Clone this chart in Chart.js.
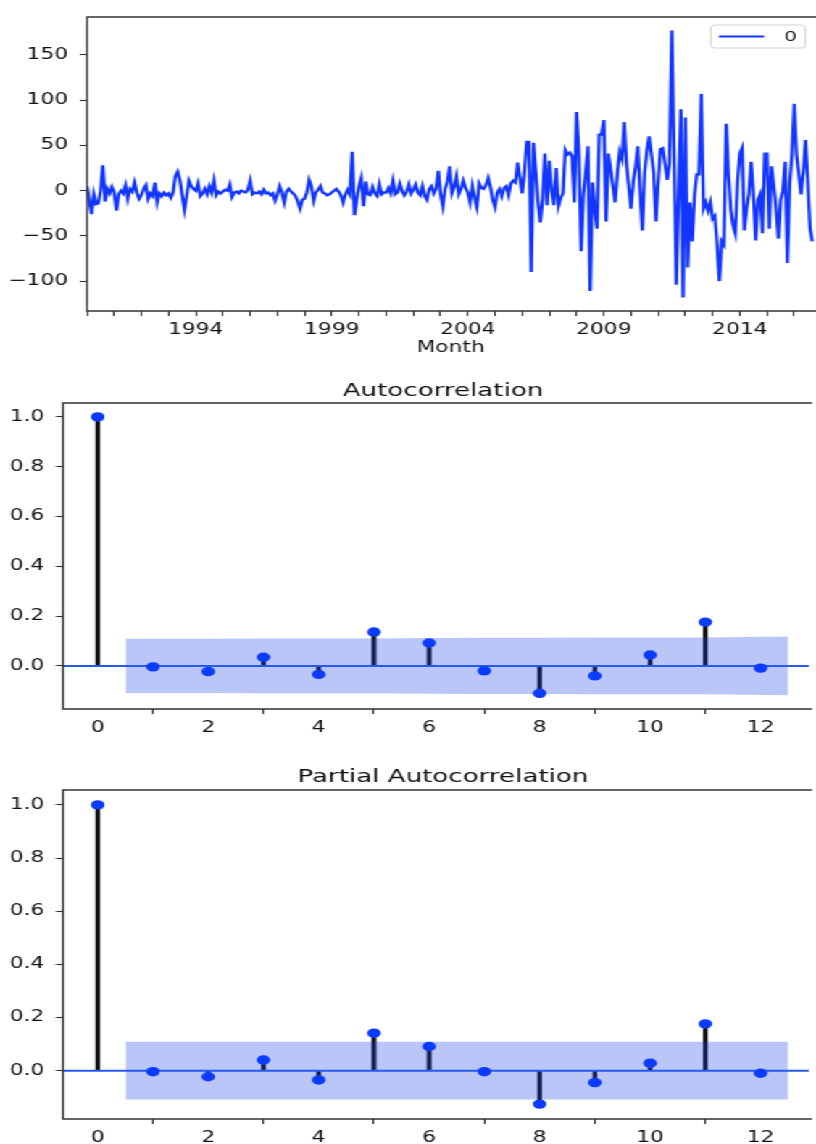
<!DOCTYPE html>
<html>
<head>
<meta charset="utf-8">
<script src="https://cdn.jsdelivr.net/npm/chart.js@4.4.1/dist/chart.umd.min.js"></script>
<style>
  html, body { margin: 0; padding: 0; background: #fff; overflow: hidden; }
  /* the whole figure is drawn narrow and widened horizontally */
  #figure { position: absolute; left: 0; top: 0; width: 563px; height: 1144px;
            transform: scaleX(1.4494); transform-origin: 0 0; }
  .panel { position: absolute; left: 0; width: 563px; }
  #p1 { top: 0; height: 360px; }
  #p2 { top: 360px; height: 380px; }
  #p3 { top: 740px; height: 404px; }
</style>
</head>
<body>
<div id="figure">
  <div class="panel" id="p1"><canvas id="series"></canvas></div>
  <div class="panel" id="p2"><canvas id="acf"></canvas></div>
  <div class="panel" id="p3"><canvas id="pacf"></canvas></div>
</div>
<script>
// ---- monthly differenced series, starting January 1990 ----
const startYear = 1990;
const seriesLabel = '0';
const diff1990s = [
   5, -10, -26,  -4, -15, -14,   0,  28, -12,   2,  -3,   4,
  -2, -22,  -4,   0,  -3,   6,  -9,   2,  -1,   9,  -2,  -9,
  -5,   2,   6,  -9,  -3,  -6,   9, -13,  -3,  -6,  -2,  -5,
  -3,  -8,  -2,  16,  21,  12,  -5, -21,  -6,  11,   5,   2,
   0,   8,  -6,  -3,   2,  -4,   5,  -2,  11,  -5,  -1,  -3,
  -1,   1,   0,   7,  -7,  -2,  -1,  -3,   0,  -1,  -2,   1,
  11,  -4,  -2,  -3,  -1,  -4,   1,  -3,  -2,  -5,  -3, -11,
  -4,   5,  -2, -13,  -1,   2,  -1,  -3,  -6, -12, -20, -10,
  -9,  -2,  12,   5, -11,  -2,   1,   5,  -2,  -3,  -5,  -4,
  -2,   0,   2,  -1,  -5, -13,  -4,   1,  -4,  43, -27, -10
];
const diff2000s = [
   5,  14, -17,  10,  -4,  -5,   4,  -3,  -6,   7,  -4,  -2,
  -2,   3,  -3,  11,  -4,  -2,   8,   0,  -5,  -1,   7,  -3,
   1,   7,  -2,  -5,   5,  -6, -10,   2,   5,  -3,   2,  22,
  -4, -17,   2,  10,  27,  -3,   4,  16,  -4,   2,  11,   3,
  -2, -13,   5,  -8, -18,   8,   3,   2,   6,  14,   4, -10,
 -18,  -2,   2,  -6,   3,   5,  -5,   8,  11,   9,  31,  14,
  -3,  20,  54,  54, -90,  53,  20, -13, -35, -10,  41, -16,
  33,   0, -16,  25, -17,  -8,  -3,  45,  40,  42,  38, -13,
  87,  42, -67,  -5,  20,  49,-111,   9, -20, -42,  62,  62,
  78, -34,  41,  24,   5, -13,  20,  43,  35,  76,  30,   5
];
const diff2010s = [
 -20,  10,  26,  49,   0, -44,  20,  44,  60,  40,  20, -34,
  10,  46,  47,  30,  12,  30, 177,  40,-104,  -5,  90,-118,
  81, -85, -13, -56,  -5,  18,  18, 107, -20, -13, -22, -13,
 -31, -28, -60,-100, -56, -60,  74,  20, -20, -38, -47,  10,
  41,  47, -44, -20,  -4,  32,  -4, -55, -10,  -4, -47,  41,
  41, -42,  27,   5, -20, -53, -10,   0,  32, -80,   8,  40,
  96,  40,  20,  -4,  20,  56,  10, -42, -56
];
const majorYears = [1994, 1999, 2004, 2009, 2014];
const seriesTicks = [-100, -50, 0, 50, 100, 150];

// ---- correlograms ----
const lags = [0, 1, 2, 3, 4, 5, 6, 7, 8, 9, 10, 11, 12];
const acfValues  = [1.0, -0.004, -0.023, 0.035, -0.034, 0.136, 0.092, -0.020, -0.110, -0.040, 0.044, 0.176, -0.009];
const pacfValues = [1.0, -0.004, -0.023, 0.040, -0.035, 0.141, 0.091, -0.004, -0.126, -0.045, 0.028, 0.176, -0.010];
// half-width of the 95% confidence band for lags 1..12
const acfConf  = [0.109, 0.109, 0.110, 0.110, 0.110, 0.112, 0.113, 0.113, 0.114, 0.114, 0.114, 0.118];
const pacfConf = [0.109, 0.109, 0.109, 0.109, 0.109, 0.109, 0.109, 0.109, 0.109, 0.109, 0.109, 0.109];
const corrTicks = [0.0, 0.2, 0.4, 0.6, 0.8, 1.0];
const lagTicks = [0, 2, 4, 6, 8, 10, 12];

// ---- styling ----
const FONT = "'DejaVu Sans', 'Liberation Sans', sans-serif";
const INK = '#111111';
const SPINE = '#333333';
const LINE_BLUE = '#1236ff';
const MARK_BLUE = '#0b3bff';
const ZERO_BLUE = '#2459f2';
const BAND = 'rgba(25,65,228,0.30)';
const tickFont = { family: FONT, size: 15 };

const fmtSigned = v => (v < 0 ? '\u2212' + Math.abs(v) : String(v));

// box spines (left, top, bottom; the right edge falls at the page border)
const framePlugin = {
  id: 'frame',
  afterDatasetsDraw(chart) {
    const { ctx, chartArea: a } = chart;
    ctx.save();
    ctx.strokeStyle = SPINE;
    ctx.lineWidth = 1.4;
    ctx.beginPath();
    ctx.moveTo(a.right + 2, a.top);
    ctx.lineTo(a.left, a.top);
    ctx.lineTo(a.left, a.bottom);
    ctx.lineTo(a.right + 2, a.bottom);
    ctx.stroke();
    ctx.restore();
  }
};

// title centred over the full axes span
const panelTitle = {
  id: 'panelTitle',
  afterDraw(chart, args, opts) {
    if (!opts || !opts.text) return;
    const { ctx } = chart;
    ctx.save();
    ctx.font = `${opts.size}px ${FONT}`;
    ctx.fillStyle = INK;
    ctx.textAlign = 'center';
    ctx.textBaseline = 'middle';
    ctx.fillText(opts.text, chart.scales.x.getPixelForValue(opts.center), opts.y);
    ctx.restore();
  }
};

// legend box in the upper right corner of the plot
const insetLegend = {
  id: 'insetLegend',
  afterDraw(chart, args, opts) {
    if (!opts || !opts.show) return;
    const { ctx, chartArea: a } = chart;
    const ds = chart.data.datasets[0];
    const w = 65, h = 23;
    const x0 = a.right - 6.2 - w, y0 = a.top + 8;
    ctx.save();
    ctx.fillStyle = 'rgba(255,255,255,0.8)';
    ctx.strokeStyle = '#d2d2d2';
    ctx.lineWidth = 1;
    ctx.beginPath();
    ctx.roundRect(x0, y0, w, h, 2.5);
    ctx.fill();
    ctx.stroke();
    ctx.strokeStyle = ds.borderColor;
    ctx.lineWidth = 2;
    ctx.beginPath();
    ctx.moveTo(x0 + 5.3, y0 + h / 2);
    ctx.lineTo(x0 + 36.6, y0 + h / 2);
    ctx.stroke();
    ctx.font = `14px ${FONT}`;
    ctx.fillStyle = INK;
    ctx.textAlign = 'center';
    ctx.textBaseline = 'middle';
    ctx.fillText(ds.label, x0 + 54.9, y0 + h / 2 + 0.5);
    ctx.restore();
  }
};

function tickGrid() {
  return { display: true, drawOnChartArea: false, drawTicks: true, tickLength: 5, tickColor: SPINE, tickWidth: 1.1 };
}

// ---- time series panel ----
const seriesValues = diff1990s.concat(diff2000s, diff2010s);
const seriesPoints = seriesValues.map((v, i) => ({ x: startYear + i / 12, y: v }));
const yearTicks = [];
for (let y = startYear; y <= 2016; y++) yearTicks.push(y);

new Chart(document.getElementById('series'), {
  type: 'line',
  data: {
    datasets: [{
      label: seriesLabel,
      data: seriesPoints,
      borderColor: LINE_BLUE,
      borderWidth: 2.3,
      pointRadius: 0,
      tension: 0,
      fill: false
    }]
  },
  options: {
    responsive: true,
    maintainAspectRatio: false,
    animation: false,
    events: [],
    layout: { padding: { top: 12, left: 0, right: 0, bottom: 0 } },
    plugins: {
      legend: { display: false },
      tooltip: { enabled: false },
      insetLegend: { show: true }
    },
    scales: {
      x: {
        type: 'linear',
        min: 1990,
        max: 2016.74,
        afterBuildTicks: s => { s.ticks = yearTicks.map(v => ({ value: v })); },
        afterFit: s => { s.height = 49; },
        ticks: {
          autoSkip: false, maxRotation: 0, minRotation: 0,
          font: tickFont, color: INK, padding: 5,
          callback: v => (majorYears.includes(v) ? String(v) : '')
        },
        grid: tickGrid(),
        border: { display: false },
        title: { display: true, text: 'Month', font: { family: FONT, size: 15 }, color: INK, padding: { top: 0, bottom: 3 } }
      },
      y: {
        type: 'linear',
        min: -133,
        max: 192,
        afterBuildTicks: s => { s.ticks = seriesTicks.map(v => ({ value: v })); },
        afterFit: s => { s.width = 60; },
        ticks: { font: tickFont, color: INK, padding: 8, callback: v => fmtSigned(v) },
        grid: tickGrid(),
        border: { display: false }
      }
    }
  },
  plugins: [framePlugin, insetLegend]
});

// ---- correlogram panels ----
const lagMin = -0.628, lagMax = 12.88;

function correlogram(canvasId, values, conf, title, yMin, yMax, padTop, axisHeight, titleY) {
  const bandLags = lags.slice(1).map((l, i, arr) => (i === 0 ? l - 0.5 : i === arr.length - 1 ? l + 0.5 : l));
  const upper = bandLags.map((x, i) => ({ x, y: conf[i] }));
  const lower = bandLags.map((x, i) => ({ x, y: -conf[i] }));
  const points = lags.map((l, i) => ({ x: l, y: values[i] }));

  new Chart(document.getElementById(canvasId), {
    type: 'scatter',
    data: {
      datasets: [
        { type: 'line', data: upper, borderWidth: 0, pointRadius: 0, fill: '+1', backgroundColor: BAND, order: 4 },
        { type: 'line', data: lower, borderWidth: 0, pointRadius: 0, fill: false, order: 4 },
        { type: 'bar', data: points, backgroundColor: '#111111', barThickness: 2.6, order: 5 },
        { type: 'line', data: [{ x: lagMin, y: 0 }, { x: lagMax, y: 0 }], borderColor: ZERO_BLUE, borderWidth: 2, pointRadius: 0, fill: false, order: 2 },
        { type: 'scatter', data: points, pointRadius: 4.7, pointBackgroundColor: MARK_BLUE, pointBorderWidth: 0, order: 1 }
      ]
    },
    options: {
      responsive: true,
      maintainAspectRatio: false,
      animation: false,
      events: [],
      layout: { padding: { top: padTop, left: 0, right: 0, bottom: 0 } },
      plugins: {
        legend: { display: false },
        tooltip: { enabled: false },
        panelTitle: { text: title, size: 18, center: 6.25, y: titleY }
      },
      scales: {
        x: {
          type: 'linear',
          min: lagMin,
          max: lagMax,
          offset: false,
          afterBuildTicks: s => { s.ticks = lagTicks.map(v => ({ value: v })); },
          afterFit: s => { s.height = axisHeight; },
          ticks: { autoSkip: false, maxRotation: 0, font: tickFont, color: INK, padding: 5, callback: v => String(v) },
          grid: tickGrid(),
          border: { display: false }
        },
        y: {
          type: 'linear',
          min: yMin,
          max: yMax,
          afterBuildTicks: s => { s.ticks = corrTicks.map(v => ({ value: v })); },
          afterFit: s => { s.width = 43.5; },
          ticks: { font: tickFont, color: INK, padding: 8, callback: v => Number(v).toFixed(1) },
          grid: tickGrid(),
          border: { display: false }
        }
      }
    },
    plugins: [framePlugin, panelTitle]
  });
}

correlogram('acf', acfValues, acfConf, 'Autocorrelation', -0.173, 1.056, 43, 31, 31.5);
correlogram('pacf', pacfValues, pacfConf, 'Partial Autocorrelation', -0.182, 1.056, 50, 25, 37.5);
</script>
</body>
</html>
